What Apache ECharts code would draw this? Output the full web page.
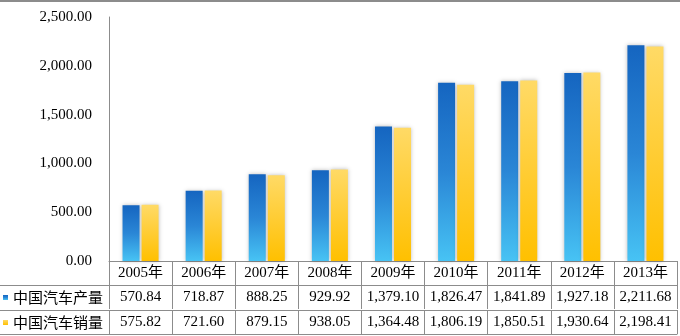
<!DOCTYPE html>
<html><head><meta charset="utf-8">
<script src="https://cdn.jsdelivr.net/npm/echarts@6/dist/echarts.min.js"></script>
<style>html,body{margin:0;padding:0;background:#fff}#c{width:680px;height:336px}</style>
</head><body><div id="c"></div>
<script>
const categories = ['2005年','2006年','2007年','2008年','2009年','2010年','2011年','2012年','2013年'];
const productionName = '中国汽车产量';
const salesName = '中国汽车销量';
const production = [570.84, 718.87, 888.25, 929.92, 1379.10, 1826.47, 1841.89, 1927.18, 2211.68];
const sales = [575.82, 721.60, 879.15, 938.05, 1364.48, 1806.19, 1850.51, 1930.64, 2198.41];
const yTicks = {min: 0, max: 2500, interval: 500};

function fmt(v){
  return Number(v).toLocaleString('en-US',{minimumFractionDigits:2, maximumFractionDigits:2});
}
const serif = "'Liberation Serif', 'Noto Sans CJK SC', serif";
const lineColor = '#8c8c8c';
const chart = echarts.init(document.getElementById('c'));

function tableAxis(offset, formatter, showLabel){
  return {
    type:'category', data: categories, gridIndex:0, position:'bottom', offset: offset,
    axisLine:{show:true, lineStyle:{color:lineColor, width:1}},
    axisTick:{show: showLabel, interval:0, length: 24, inside:false, lineStyle:{color:lineColor}},
    axisLabel:{show: showLabel, interval:0, hideOverlap:false, margin: 5, fontSize: 15, color:'#000', fontFamily: serif, formatter: formatter},
    splitLine:{show:false}
  };
}

chart.setOption({
  animation:false,
  grid:{left:109, right:3, top:17, bottom:75, containLabel:false},
  legend:{
    orient:'vertical', left:3, top:290, padding:0, itemWidth:5, itemHeight:5, itemGap:10, icon:'rect',
    textStyle:{fontSize:15, color:'#000', fontFamily:"'Noto Sans CJK SC', sans-serif"},
    data:[productionName, salesName]
  },
  xAxis:[
    tableAxis(0, v => v, true),
    tableAxis(24, (v,i) => fmt(production[i]), true),
    tableAxis(49, (v,i) => fmt(sales[i]), true),
    tableAxis(73, v => '', false)
  ],
  yAxis:{
    type:'value', min:yTicks.min, max:yTicks.max, interval:yTicks.interval,
    axisLine:{show:true, lineStyle:{color:lineColor}},
    axisTick:{show:false},
    splitLine:{show:false},
    axisLabel:{fontSize:15, color:'#000', fontFamily: serif, margin:17, formatter: v => fmt(v)}
  },
  series:[
    {name:productionName, type:'bar', data:production, barWidth:17, barGap:'12%',
     itemStyle:{
       color:new echarts.graphic.LinearGradient(0,0,0,1,[{offset:0,color:'#1565c0'},{offset:0.5,color:'#2a86d6'},{offset:1,color:'#47c3f4'}]),
       shadowBlur:4, shadowColor:'rgba(0,0,0,0.25)', shadowOffsetX:0, shadowOffsetY:0
     }},
    {name:salesName, type:'bar', data:sales, barWidth:17,
     itemStyle:{
       color:new echarts.graphic.LinearGradient(0,0,0,1,[{offset:0,color:'#ffda66'},{offset:0.6,color:'#ffca2a'},{offset:1,color:'#ffc000'}]),
       shadowBlur:4, shadowColor:'rgba(0,0,0,0.25)', shadowOffsetX:0, shadowOffsetY:0
     }}
  ],
  graphic:[
    {type:'rect', left:0, top:0, shape:{width:680, height:2}, style:{fill:'#8c8c8c'}},
    {type:'line', shape:{x1:0, y1:285.5, x2:109, y2:285.5}, style:{stroke:lineColor, lineWidth:1}},
    {type:'line', shape:{x1:0, y1:310.5, x2:109, y2:310.5}, style:{stroke:lineColor, lineWidth:1}},
    {type:'line', shape:{x1:0, y1:334.5, x2:109, y2:334.5}, style:{stroke:lineColor, lineWidth:1}}
  ]
});
</script></body></html>
